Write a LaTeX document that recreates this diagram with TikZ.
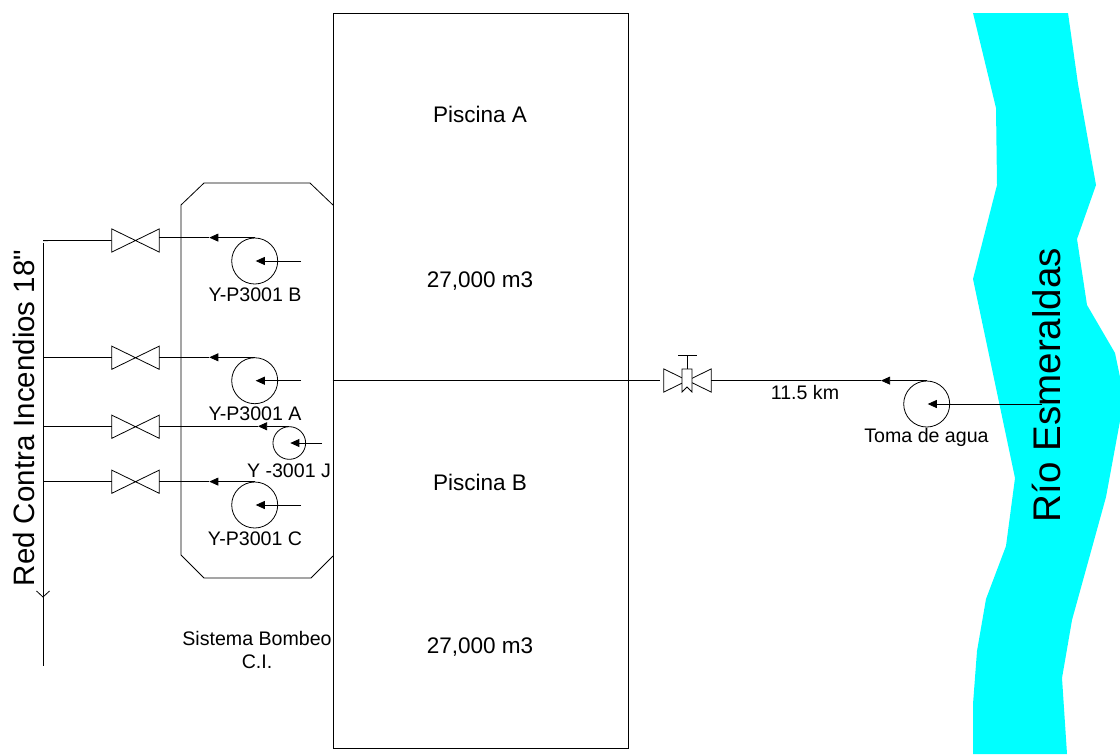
\documentclass[tikz,border=0pt]{standalone}
\usepackage{fontspec}
\setmainfont{Liberation Sans}
\newfontfamily\plainsans{Liberation Sans}
\usetikzlibrary{arrows.meta}
\definecolor{rivercyan}{RGB}{0,255,255}
\tikzset{
  line/.style={draw=black,line width=0.6pt},
  flow/.style={line,-{Triangle[length=6.8pt,width=6pt]}},
  tankbox/.style={line,rectangle,minimum width=221.25pt,minimum height=551.25pt,inner sep=0pt},
  bowtie/.style={rectangle,minimum width=35.25pt,minimum height=17pt,inner sep=0pt},
  pumpbig/.style={line,circle,minimum size=34.5pt,inner sep=0pt},
  pumpsmall/.style={line,circle,minimum size=24.5pt,inner sep=0pt},
  big/.style={font=\fontsize{16.9pt}{19pt}\selectfont,inner sep=0pt},
  small/.style={font=\fontsize{14.7pt}{17pt}\selectfont,inner sep=0pt},
  header/.style={font=\plainsans\fontsize{22.1pt}{25pt}\selectfont,inner sep=0pt,rotate=90},
  river/.style={font=\fontsize{28.9pt}{32pt}\selectfont,inner sep=0pt,rotate=90},
}
\begin{document}
\begin{tikzpicture}[x=0.75pt,y=-0.75pt]
\useasboundingbox (0,0) rectangle (1120,754);
% river
\fill[rivercyan] (973,13) -- (996,108) -- (997,185) -- (973,279) -- (1015,478) -- (1006,546) -- (986,599) -- (977,651) -- (973,704) -- (973,754)
  -- (1067,754) -- (1062,678) -- (1072,620) -- (1106,497) -- (1120,421) -- (1120,377) -- (1115,353) -- (1087,305) -- (1077,239) -- (1096,185) -- (1078,84) -- (1068,13) -- cycle;
% tank and enclosure
\node[tankbox] (tank) at (480.5,380.5) {};
\draw[line] (333,205) -- (310,183) -- (204,183) -- (181,205) -- (181,555) -- (204,578) -- (311,578) -- (333,556);
% valves
\foreach \n/\y in {vB/240.5,vA/357.7,vJ/426.7,vC/481.7}{
  \node[bowtie] (\n) at (135.5,\y) {};
  \draw[line] (\n.north west) -- (\n.south east) -- (\n.north east) -- (\n.south west) -- cycle;
}
% pumps
\node[pumpbig] (pB) at (254.7,261) {};
\node[pumpbig] (pA) at (254.7,380.7) {};
\node[pumpbig] (pC) at (254.7,505) {};
\node[pumpsmall] (pJ) at (289.3,443) {};
% header
\coordinate (hTop) at (43,240.6);
\coordinate (hStart) at (43,243);
\coordinate (hEnd) at (43,666);
\coordinate (hTip) at (43,597);
\coordinate (hWingL) at (36.5,591);
\coordinate (hWingR) at (49.5,591);
\draw[line] (hStart) -- (hEnd);
\draw[line] (hWingL) -- (hTip) -- (hWingR);
\draw[line] (vB.west) -- (hTop);
\draw[line] (vA.west) -- (vA.west -| hTop);
\draw[line] (vJ.west) -- (vJ.west -| hTop);
\draw[line] (vC.west) -- (vC.west -| hTop);
% outlets
\foreach \p/\v/\t in {pB/vB/209.3,pA/vA/209.3,pJ/vJ/258,pC/vC/209.3}{
  \coordinate (tip\p) at (\t,0);
  \draw[flow] (\p.north) -- (\p.north -| tip\p);
  \draw[line] (\p.north -| tip\p) -- (\p.north -| \v.east);
}
% inlets
\coordinate (inB) at (301,261);
\coordinate (inA) at (301,380.7);
\coordinate (inC) at (301,505);
\coordinate (inJ) at (322,443);
\draw[flow] (inB) -- ([xshift=0.75pt]pB.center);
\draw[flow] (inA) -- ([xshift=0.75pt]pA.center);
\draw[flow] (inC) -- ([xshift=0.75pt]pC.center);
\draw[flow] (inJ) -- ([xshift=0.75pt]pJ.center);
% intake valve
\node[bowtie] (vT) at (687.5,380.5) {};
\draw[line] (vT.north west) -- (vT.south east) -- (vT.north east) -- (vT.south west) -- cycle;
\coordinate (gN) at (687.5,369);
\coordinate (stemTop) at (687.5,355);
\coordinate (barL) at (678,355);
\coordinate (barR) at (697,355);
\filldraw[line,fill=white] (682,369) -- (692,369) -- (692,392) -- (687,387) -- (682,392) -- cycle;
\draw[line] (gN) -- (stemTop);
\draw[line] (barL) -- (barR);
\draw[line,shorten >=3pt] (tank.west) -- (vT.west);
% intake pump
\node[pumpbig] (pT) at (926.7,404) {};
\coordinate (tipT) at (881,381);
\coordinate (inT) at (1042,404);
\draw[flow] (pT.north) -- (pT.north -| tipT);
\draw[line] (pT.north -| tipT) -- (pT.north -| vT.east);
\draw[flow] (inT) -- ([xshift=0.75pt]pT.center);
% labels
\node[big] (lA) at (480,114) {Piscina A};
\node[big] (lA2) at (480,281) {27,000 m3};
\node[big] (lB) at (480,482) {Piscina B};
\node[big] (lB2) at (480,647) {27,000 m3};
\node[small] (tB) at (255,295) {Y-P3001 B};
\node[small] (tA) at (255,414) {Y-P3001 A};
\node[small] (tJ) at (289,471) {Y -3001 J};
\node[small] (tC) at (255,539) {Y-P3001 C};
\node[small] (tS) at (257,638) {Sistema Bombeo};
\node[small] (tCI) at (257,662) {C.I.};
\node[small] (tKm) at (805,392) {11.5 km};
\node[small] (tT) at (926.5,437) {Toma de agua};
\node[header] (tRed) at (24,418) {Red Contra Incendios 18"};
\node[river] (tRio) at (1046,385) {Río Esmeraldas};
\end{tikzpicture}
\end{document}
